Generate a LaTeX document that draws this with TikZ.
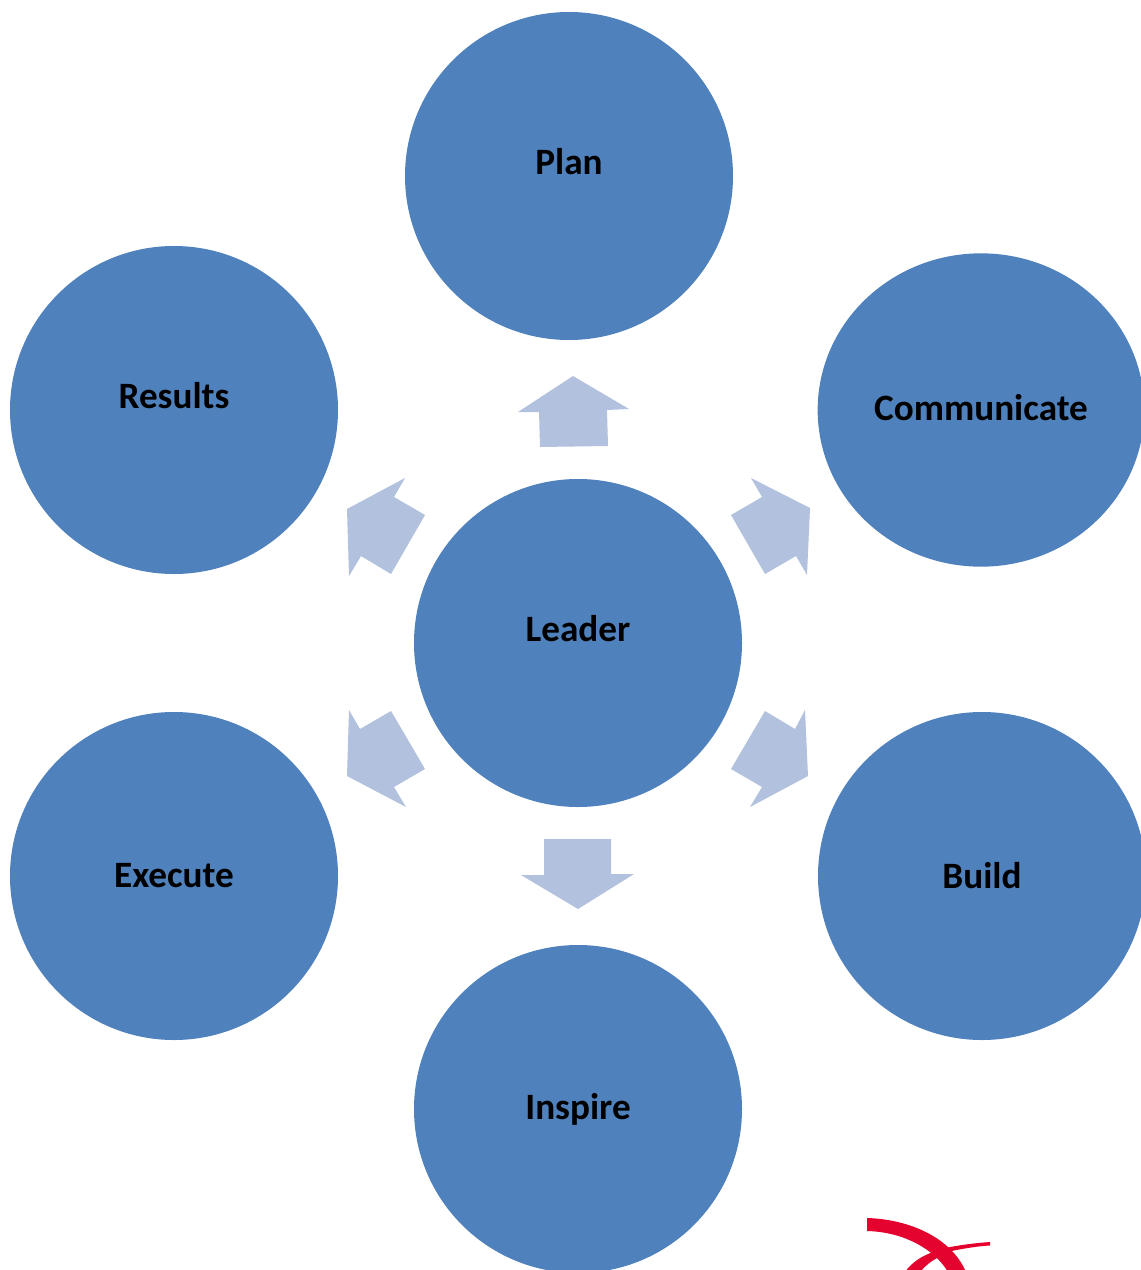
\documentclass[tikz,border=0pt]{standalone}
\usepackage{fontspec}
\setmainfont{Carlito}
\usetikzlibrary{shapes.geometric}
\definecolor{hub}{HTML}{4F81BD}
\definecolor{blockarrow}{HTML}{B2C1DD}
\definecolor{logored}{HTML}{E4032E}
\newcommand{\shifted}[2]{\raisebox{#1}[0pt][0pt]{#2}}
\tikzset{
  x=0.75pt,y=-0.75pt,
  disc/.style={circle,fill=hub,draw=none,minimum size=246pt,inner sep=0pt,font=\fontsize{27.9}{32}\bfseries\selectfont,text=black},
  oval/.style={ellipse,fill=hub,draw=none,minimum width=245pt,minimum height=235pt,inner sep=0pt,font=\fontsize{27.9}{32}\bfseries\selectfont,text=black},
  blockpoly/.style={fill=blockarrow,draw=none},
}
\begin{document}
\begin{tikzpicture}
\path[use as bounding box] (0,0) rectangle (1141,1270);
\clip (0,0) rectangle (1141,1270);
\fill[white] (0,0) rectangle (1141,1270);
\node[disc] (plan) at (569,176) {\shifted{1pt}{Plan}};
\node[disc] (results) at (174,410) {\shifted{1.5pt}{Results}};
\node[oval] (comm) at (981,410) {\shifted{-7.5pt}{Communicate}};
\node[disc] (leader) at (578,643) {\shifted{1.5pt}{Leader}};
\node[disc] (execute) at (174,876) {Execute};
\node[disc] (build) at (982,876) {Build};
\node[disc] (inspire) at (578,1109) {Inspire};
\fill[blockpoly] (573,376)--(629,409)--(607,410)--(608,446)--(540,447)--(539,412)--(518,412)--cycle;
\fill[blockpoly] (751,478)--(810,508)--(807,575)--(796,556)--(765,574)--(731,515)--(762,497)--cycle;
\fill[blockpoly] (805,710)--(808,776)--(750,807)--(762,787)--(731,769)--(765,711)--(795,729)--cycle;
\fill[blockpoly] (544,839)--(611,839)--(611,874)--(634,874)--(578,909)--(521,875)--(544,875)--cycle;
\fill[blockpoly] (349,710)--(360,729)--(391,711)--(425,769)--(394,787)--(406,807)--(347,776)--cycle;
\fill[blockpoly] (405,478)--(394,497)--(425,515)--(391,574)--(361,556)--(349,576)--(347,509)--cycle;
% logo
\fill[logored] (867,1218) .. controls (905,1219) and (950,1235) .. (966,1272) -- (948,1272) .. controls (935,1250) and (905,1232) .. (867,1231) -- cycle;
\fill[logored] (990,1242) .. controls (975,1243) and (960,1245) .. (945,1248) -- (947,1252) .. controls (965,1248) and (980,1246) .. (990,1245.5) -- cycle;
\fill[logored] (933,1252) .. controls (922,1256) and (912,1262) .. (905,1272) -- (920,1272) .. controls (925,1266) and (931,1261) .. (939,1257) -- cycle;
\end{tikzpicture}
\end{document}
